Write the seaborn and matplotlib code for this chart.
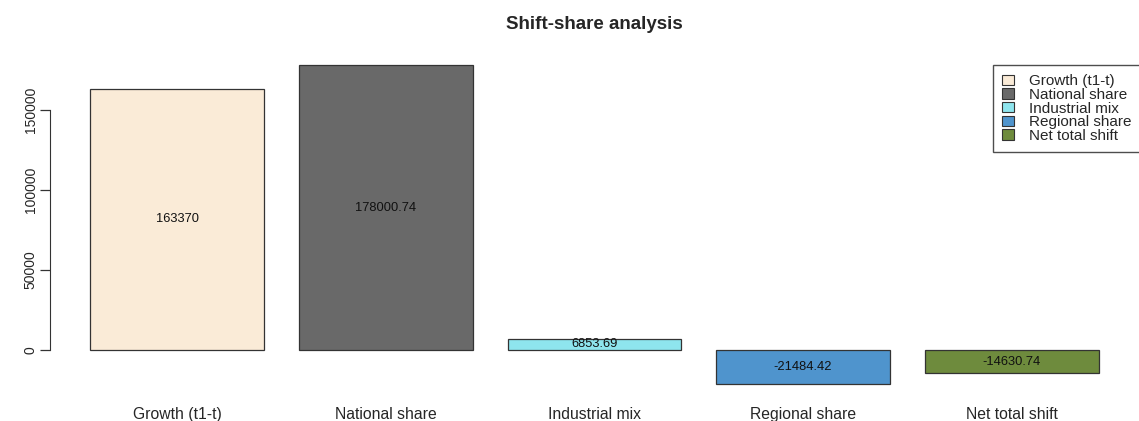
"""
Shift-share analysis bar chart.
"""

import matplotlib
matplotlib.use("Agg")
import matplotlib.pyplot as plt
import pandas as pd
import seaborn as sns
from matplotlib.patches import Patch


COMPONENTS = [
    "Growth (t1-t)",
    "National share",
    "Industrial mix",
    "Regional share",
    "Net total shift"
]
VALUES = [163370, 178000.74, 6853.69, -21484.42, -14630.74]
LABELS = ["163370", "178000.74", "6853.69", "-21484.42", "-14630.74"]
COLORS = ["#FAEBD7", "#696969", "#8EE5EE", "#4F94CD", "#6E8B3D"]
Y_TICKS = [0, 50000, 100000, 150000]


def main() -> None:
    sns.set_style("white")
    plt.rcParams["font.family"] = ["Liberation Sans", "DejaVu Sans"]

    share_dataframe = pd.DataFrame({
        "Component": COMPONENTS,
        "Value": VALUES
    })

    fig = plt.figure(figsize=(11.39, 4.21), dpi=100)
    ax = fig.add_axes([0.0439, 0.057, 0.9561, 0.8185])

    sns.barplot(
        data=share_dataframe,
        x="Component",
        y="Value",
        hue="Component",
        palette=COLORS,
        saturation=1,
        width=1 / 1.2,
        edgecolor="#333333",
        linewidth=0.9,
        legend=False,
        ax=ax
    )

    # Value labels in the middle of each bar
    for position, (value, label) in enumerate(zip(VALUES, LABELS)):
        ax.text(position, value / 2, label, ha="center", va="center",
                fontsize=9.3, color="#111111")

    ax.set_xlim(-0.61, 4.61)
    ax.set_ylim(-29464, 185980)

    for side in ["top", "right", "bottom"]:
        ax.spines[side].set_visible(False)
    ax.spines["left"].set_bounds(0, 150000)
    ax.spines["left"].set_color("#333333")

    ax.set_yticks(Y_TICKS)
    ax.set_yticklabels([str(tick) for tick in Y_TICKS], rotation=90,
                       va="center", fontsize=10)
    ax.tick_params(axis="y", left=True, length=7.2, width=0.9,
                   color="#333333", pad=1.5)
    ax.tick_params(axis="x", bottom=False, length=0, pad=7,
                   labelsize=11.3)
    ax.set_xlabel("")
    ax.set_ylabel("")

    ax.set_title("Shift-share analysis", fontsize=13.5,
                 fontweight="bold", pad=16.5)

    handles = [
        Patch(facecolor=color, edgecolor="#333333", linewidth=0.8)
        for color in COLORS
    ]
    fig.legend(
        handles,
        COMPONENTS,
        loc="upper left",
        bbox_to_anchor=(993 / 1139, 1 - 65 / 421),
        frameon=True,
        fancybox=False,
        edgecolor="#222222",
        fontsize=11,
        handlelength=0.75,
        handleheight=0.65,
        handletextpad=1.0,
        labelspacing=-0.02,
        borderpad=0.6,
        borderaxespad=0
    )

    fig.savefig("out.png", dpi=100)


if __name__ == "__main__":
    main()
